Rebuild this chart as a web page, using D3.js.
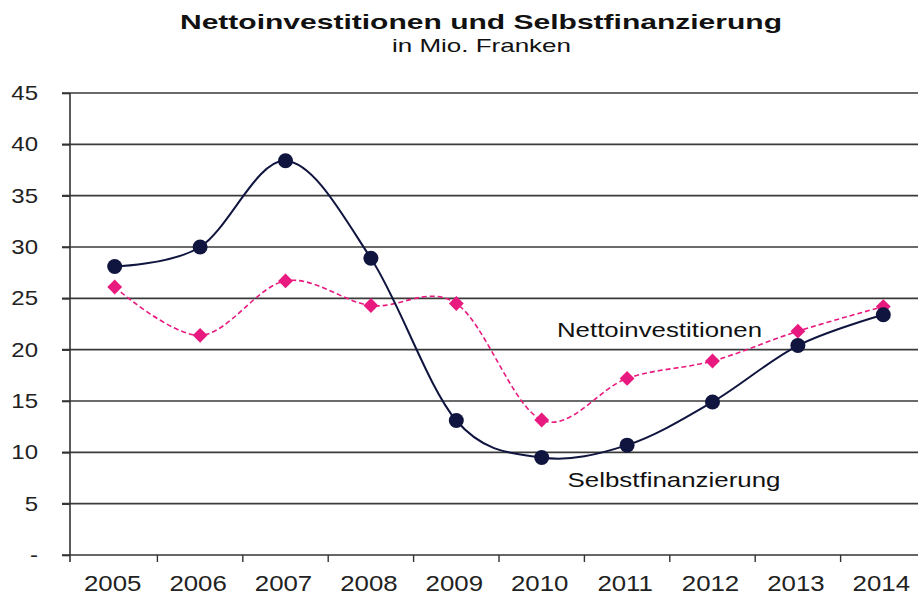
<!DOCTYPE html>
<html>
<head>
<meta charset="utf-8">
<script src="https://cdn.jsdelivr.net/npm/d3@7"></script>
<style>
  body { margin: 0; background: #fff; }
  svg { display: block; font-family: 'Liberation Sans', Arial, sans-serif; }
</style>
</head>
<body>
<div id="chart"></div>
<script>
// data
const years = ['2005', '2006', '2007', '2008', '2009', '2010', '2011', '2012', '2013', '2014']
const selbstfinanzierung = [28.1, 30.0, 38.4, 28.9, 13.1, 9.5, 10.7, 14.9, 20.4, 23.4]
const nettoinvestitionen = [26.1, 21.4, 26.7, 24.3, 24.5, 13.15, 17.2, 18.9, 21.8, 24.2]
const yTicks = [0, 5, 10, 15, 20, 25, 30, 35, 40, 45]

const width = 918
const height = 595
const plotLeft = 70
const plotTop = 93
const plotBottom = 555

const navy = '#10153f'
const pink = '#e8197f'

const svg = d3.select('#chart').append('svg')
  .attr('width', width)
  .attr('height', height)

const x = d3.scalePoint()
  .domain(years)
  .range([72, 926])
  .padding(0.5)

const y = d3.scaleLinear()
  .domain([0, 45])
  .range([plotBottom, plotTop])

// gridlines
svg.append('g')
  .selectAll('line')
  .data(yTicks.filter(d => d > 0))
  .join('line')
  .attr('x1', plotLeft - 8)
  .attr('x2', width)
  .attr('y1', d => y(d))
  .attr('y2', d => y(d))
  .attr('stroke', '#3a3a3a')
  .attr('stroke-width', 1.6)

// y axis
const axisY = d3.axisLeft(y)
  .tickValues(yTicks)
  .tickSize(8)
  .tickPadding(0)
  .tickFormat(d => d === 0 ? '-' : d)

const gy = svg.append('g')
  .attr('transform', `translate(${plotLeft},0)`)
  .call(axisY)
gy.select('.domain')
  .attr('d', `M0,${plotTop}V${plotBottom + 7}`)
  .attr('stroke', '#333')
  .attr('stroke-width', 1.6)
gy.selectAll('.tick line').attr('stroke', '#333').attr('stroke-width', 1.6)
gy.selectAll('.tick text')
  .attr('x', 0)
  .attr('fill', '#222')
  .style('font-size', '20px')
  .attr('transform', 'translate(-32,0) scale(1.2,1)')

// x axis, ticks between the categories
const tickX = years.map(d => x(d) - x.step() / 2)
svg.append('line')
  .attr('x1', plotLeft - 8)
  .attr('x2', width)
  .attr('y1', plotBottom)
  .attr('y2', plotBottom)
  .attr('stroke', '#333')
  .attr('stroke-width', 1.6)
svg.append('g')
  .selectAll('line')
  .data(tickX.slice(1))
  .join('line')
  .attr('x1', d => d)
  .attr('x2', d => d)
  .attr('y1', plotBottom)
  .attr('y2', plotBottom + 7)
  .attr('stroke', '#333')
  .attr('stroke-width', 1.4)

svg.append('g')
  .selectAll('text')
  .data(years)
  .join('text')
  .attr('text-anchor', 'middle')
  .attr('transform', d => `translate(${x(d) - 2},591) scale(1.2,1)`)
  .attr('fill', '#222')
  .style('font-size', '21.5px')
  .text(d => d)

// lines
const line = d3.line()
  .x((d, i) => x(years[i]))
  .y(d => y(d))
  .curve(d3.curveCatmullRom.alpha(0))

svg.append('path')
  .datum(nettoinvestitionen)
  .attr('d', line)
  .attr('fill', 'none')
  .attr('stroke', pink)
  .attr('stroke-width', 1.6)
  .attr('stroke-dasharray', '5,3')

svg.append('path')
  .datum(selbstfinanzierung)
  .attr('d', line)
  .attr('fill', 'none')
  .attr('stroke', navy)
  .attr('stroke-width', 2)

const diamond = d3.symbol(d3.symbolSquare, 110)
svg.append('g')
  .selectAll('path')
  .data(nettoinvestitionen)
  .join('path')
  .attr('d', diamond)
  .attr('transform', (d, i) => `translate(${x(years[i])},${y(d)}) rotate(45)`)
  .attr('fill', pink)

svg.append('g')
  .selectAll('circle')
  .data(selbstfinanzierung)
  .join('circle')
  .attr('cx', (d, i) => x(years[i]))
  .attr('cy', d => y(d))
  .attr('r', 7.5)
  .attr('fill', navy)

// titles and series labels
const label = (txt, cx, cy, size, len, weight) => svg.append('text')
  .attr('x', cx)
  .attr('y', cy)
  .attr('text-anchor', 'middle')
  .attr('textLength', len)
  .attr('lengthAdjust', 'spacingAndGlyphs')
  .attr('fill', '#111')
  .style('font-size', size + 'px')
  .style('font-weight', weight || 'normal')
  .text(txt)

label('Nettoinvestitionen und Selbstfinanzierung', 481, 29, 21, 602, 'bold')
label('in Mio. Franken', 481.5, 52, 18.5, 179)
label('Nettoinvestitionen', 659.5, 337, 21, 205)
label('Selbstfinanzierung', 674, 487, 21, 213)
</script>
</body>
</html>
